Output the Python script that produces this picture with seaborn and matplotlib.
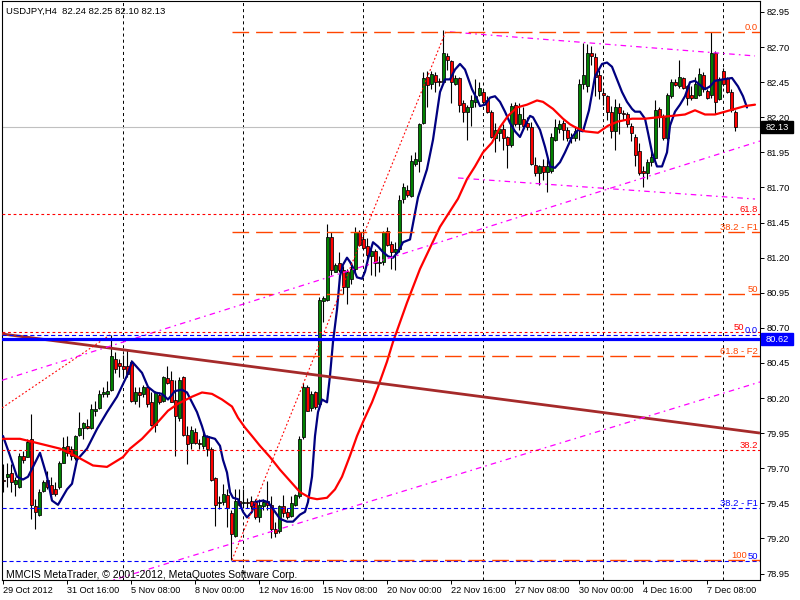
import matplotlib
matplotlib.use("Agg")
import matplotlib.pyplot as plt
import matplotlib.transforms as mtransforms
from matplotlib.patches import Rectangle
import numpy as np
import pandas as pd
import seaborn as sns

sns.set_style("white")
plt.rcParams['font.family'] = ['Liberation Sans', 'DejaVu Sans']
plt.rcParams['lines.scale_dashes'] = False

# ---------------- data ----------------
opens = [79.62, 79.64, 79.67, 79.59, 79.57, 79.79, 79.78, 79.91, 79.43, 79.37,
         79.54, 79.62, 79.58, 79.55, 79.57, 79.74, 79.86, 79.84, 79.77, 79.94,
         79.99, 80.00, 79.99, 80.11, 80.13, 80.23, 80.23, 80.26, 80.48, 80.45,
         80.43, 80.43, 80.46, 80.18, 80.24, 80.23, 80.28, 80.17, 80.01, 80.22,
         80.18, 80.34, 80.33, 80.19, 80.06, 80.35, 79.94, 79.88, 79.96, 79.88,
         79.86, 79.93, 79.84, 79.63, 79.45, 79.46, 79.51, 79.38, 79.22, 79.47,
         79.45, 79.46, 79.47, 79.46, 79.35, 79.43, 79.47, 79.44, 79.27, 79.25,
         79.43, 79.39, 79.36, 79.44, 79.50, 79.92, 80.28, 80.13, 80.24, 80.16,
         80.89, 80.90, 81.35, 81.10, 81.16, 81.11, 80.99, 81.05, 81.12, 81.38,
         81.33, 81.28, 81.21, 81.25, 81.16, 81.17, 81.39, 81.30, 81.24, 81.26,
         81.62, 81.68, 81.64, 81.87, 81.89, 82.16, 82.49, 82.44, 82.50, 82.46,
         82.45, 82.64, 82.60, 82.44, 82.48, 82.30, 82.24, 82.27, 82.31, 82.36,
         82.38, 82.32, 82.24, 82.05, 82.09, 82.12, 82.06, 82.00, 82.29, 82.15,
         82.19, 82.16, 82.13, 81.86, 81.80, 81.85, 81.81, 81.82, 82.04, 82.12,
         82.16, 82.11, 82.05, 82.05, 82.11, 82.44, 82.42, 82.66, 82.63, 82.50,
         82.37, 82.35, 82.24, 82.10, 82.27, 82.23, 82.22, 82.14, 82.06, 81.96,
         81.82, 81.80, 81.88, 81.91, 82.26, 82.20, 82.05, 82.35, 82.45, 82.42,
         82.48, 82.42, 82.36, 82.34, 82.36, 82.50, 82.39, 82.36, 82.66, 82.33,
         82.53, 82.48, 82.38, 82.24]
highs = [79.73, 79.74, 79.73, 79.64, 79.81, 79.82, 79.91, 80.09, 79.48, 79.55,
         79.62, 79.68, 79.64, 79.60, 79.75, 79.92, 79.93, 79.86, 79.94, 80.10,
         80.03, 80.05, 80.16, 80.18, 80.26, 80.28, 80.32, 80.65, 80.53, 80.48,
         80.51, 80.55, 80.47, 80.28, 80.28, 80.29, 80.29, 80.24, 80.25, 80.24,
         80.36, 80.43, 80.39, 80.33, 80.35, 80.36, 80.00, 80.00, 79.99, 79.91,
         79.96, 79.94, 79.85, 79.64, 79.50, 79.59, 79.55, 79.40, 79.55, 79.55,
         79.55, 79.49, 79.50, 79.48, 79.48, 79.48, 79.61, 79.50, 79.32, 79.44,
         79.51, 79.42, 79.50, 79.52, 79.93, 80.31, 80.29, 80.25, 80.25, 80.92,
         80.93, 81.44, 81.38, 81.16, 81.24, 81.14, 81.12, 81.17, 81.42, 81.40,
         81.40, 81.34, 81.26, 81.26, 81.21, 81.39, 81.42, 81.32, 81.31, 81.65,
         81.73, 81.72, 81.93, 81.95, 82.16, 82.52, 82.53, 82.53, 82.52, 82.48,
         82.82, 82.66, 82.61, 82.50, 82.49, 82.32, 82.29, 82.36, 82.47, 82.45,
         82.40, 82.35, 82.25, 82.16, 82.13, 82.15, 82.07, 82.30, 82.31, 82.30,
         82.27, 82.20, 82.17, 81.92, 81.86, 81.90, 81.90, 82.09, 82.19, 82.18,
         82.18, 82.13, 82.09, 82.13, 82.47, 82.73, 82.72, 82.71, 82.66, 82.54,
         82.41, 82.36, 82.28, 82.33, 82.30, 82.25, 82.24, 82.16, 82.08, 82.02,
         81.85, 81.90, 81.95, 82.32, 82.27, 82.22, 82.37, 82.47, 82.47, 82.61,
         82.49, 82.43, 82.42, 82.49, 82.55, 82.52, 82.40, 82.81, 82.67, 82.49,
         82.55, 82.49, 82.40, 82.25]
lows = [79.53, 79.57, 79.53, 79.50, 79.56, 79.74, 79.78, 79.34, 79.27, 79.36,
        79.53, 79.55, 79.48, 79.50, 79.55, 79.74, 79.79, 79.76, 79.76, 79.93,
        79.91, 79.98, 79.98, 80.07, 80.12, 80.21, 80.21, 80.25, 80.38, 80.35,
        80.36, 80.35, 80.17, 80.16, 80.14, 80.21, 80.14, 80.00, 79.96, 80.16,
        80.17, 80.30, 80.17, 79.79, 80.04, 79.93, 79.73, 79.84, 79.87, 79.84,
        79.84, 79.79, 79.61, 79.29, 79.41, 79.44, 79.28, 79.05, 79.21, 79.43,
        79.42, 79.42, 79.41, 79.34, 79.32, 79.40, 79.40, 79.20, 79.21, 79.24,
        79.35, 79.34, 79.35, 79.43, 79.49, 79.91, 80.11, 80.11, 80.12, 80.14,
        80.74, 80.89, 81.08, 81.10, 81.10, 80.94, 80.87, 81.01, 81.10, 81.28,
        81.26, 81.15, 81.08, 81.07, 81.10, 81.15, 81.28, 81.12, 81.11, 81.24,
        81.59, 81.63, 81.63, 81.85, 81.81, 82.15, 82.27, 82.40, 82.38, 82.42,
        82.44, 82.54, 82.30, 82.43, 82.24, 82.17, 82.04, 82.14, 82.27, 82.35,
        82.30, 82.23, 82.05, 81.95, 82.03, 81.97, 81.84, 81.99, 82.14, 82.11,
        82.13, 82.11, 81.86, 81.78, 81.72, 81.75, 81.67, 81.80, 82.03, 82.09,
        82.04, 82.03, 82.02, 82.03, 82.04, 82.40, 82.38, 82.57, 82.35, 82.33,
        82.29, 82.18, 82.05, 81.97, 82.08, 82.18, 82.13, 82.03, 81.85, 81.79,
        81.70, 81.76, 81.85, 81.90, 82.13, 82.04, 82.04, 82.34, 82.42, 82.41,
        82.40, 82.29, 82.32, 82.34, 82.35, 82.38, 82.33, 82.34, 82.22, 82.32,
        82.42, 82.37, 82.24, 82.10]
closes = [79.61, 79.66, 79.60, 79.62, 79.79, 79.76, 79.89, 79.44, 79.39, 79.53,
          79.60, 79.57, 79.52, 79.52, 79.74, 79.85, 79.81, 79.79, 79.93, 79.99,
          80.02, 79.99, 80.12, 80.12, 80.23, 80.24, 80.25, 80.50, 80.41, 80.43,
          80.41, 80.37, 80.18, 80.24, 80.22, 80.28, 80.16, 80.01, 80.24, 80.17,
          80.35, 80.31, 80.17, 80.07, 80.33, 79.94, 79.87, 79.97, 79.88, 79.87,
          79.93, 79.84, 79.62, 79.44, 79.46, 79.52, 79.42, 79.23, 79.47, 79.44,
          79.46, 79.45, 79.43, 79.35, 79.44, 79.46, 79.44, 79.27, 79.24, 79.43,
          79.38, 79.35, 79.45, 79.51, 79.91, 80.28, 80.11, 80.23, 80.14, 80.90,
          80.91, 81.35, 81.11, 81.15, 81.11, 80.99, 81.10, 81.12, 81.38, 81.29,
          81.27, 81.22, 81.25, 81.16, 81.17, 81.38, 81.29, 81.24, 81.26, 81.61,
          81.70, 81.65, 81.89, 81.90, 82.15, 82.48, 82.43, 82.51, 82.45, 82.45,
          82.66, 82.61, 82.45, 82.48, 82.29, 82.24, 82.27, 82.32, 82.35, 82.41,
          82.31, 82.24, 82.06, 82.11, 82.12, 82.05, 82.00, 82.28, 82.15, 82.22,
          82.14, 82.13, 81.87, 81.80, 81.85, 81.81, 81.85, 82.06, 82.13, 82.15,
          82.11, 82.05, 82.06, 82.10, 82.44, 82.50, 82.66, 82.64, 82.49, 82.39,
          82.36, 82.24, 82.10, 82.27, 82.23, 82.22, 82.15, 82.09, 81.93, 81.80,
          81.80, 81.88, 81.92, 82.25, 82.20, 82.05, 82.36, 82.45, 82.43, 82.49,
          82.41, 82.34, 82.34, 82.44, 82.51, 82.40, 82.34, 82.66, 82.31, 82.47,
          82.44, 82.38, 82.25, 82.13]

# fast MA (navy), sampled along the curve: bar position, value
blue_ma_bar = [0, 1.75, 3.5, 5, 6.25, 7.5, 9.25, 11, 12.25, 13.75, 16, 17.25, 18.5, 21, 23.5,
               26, 28.5, 31, 32.25, 34.75, 36.25, 38, 39.75, 41.25, 43, 44.75, 46, 47.25,
               48.5, 49.75, 50.5, 51.75, 53, 54.25, 55, 56, 56.75, 57.5, 58.75, 60, 61,
               62.25, 63, 65, 66.25, 67.5, 69.25, 71, 72.5, 74.25, 75.5, 76.25, 77.25, 78,
               78.75, 79.75, 81, 81.75, 82.5, 83.5, 84.25, 85, 86, 86.75, 87.5, 88.5, 89.75,
               90.5, 91.25, 92.5, 93.75, 95, 96.25, 97.5, 98.75, 100, 101.75, 103.75, 106,
               107.5, 109.25, 110.5, 111.75, 113, 114.25, 115.5, 116.25, 117.25, 118.5,
               119.25, 120.5, 121.75, 123, 124.25, 125.5, 126.75, 128, 129.25, 130.5,
               131.75, 132.5, 134.25, 135.5, 136.75, 138, 139.25, 140.5, 142.25, 143.75,
               145, 146.5, 148, 149.75, 151, 152.25, 153.5, 154.75, 156, 157.25, 158,
               159.25, 160.5, 161.25, 162.25, 163.5, 164.75, 166, 166.75, 168, 169.25,
               170.5, 171.75, 173, 174.25, 175.5, 176.75, 178, 180, 182.25, 183.75, 185, 186]
blue_ma_val = [79.93, 79.79, 79.64, 79.62, 79.64, 79.71, 79.81, 79.64, 79.47, 79.44, 79.55, 79.59,
               79.76, 79.84, 79.98, 80.10, 80.21, 80.36, 80.46, 80.38, 80.28, 80.24, 80.23,
               80.19, 80.25, 80.26, 80.24, 80.17, 80.10, 80.00, 79.93, 79.92, 79.91, 79.86,
               79.76, 79.67, 79.53, 79.49, 79.48, 79.39, 79.35, 79.39, 79.46, 79.47, 79.46,
               79.41, 79.34, 79.32, 79.32, 79.37, 79.39, 79.46, 79.64, 79.93, 80.10, 80.19,
               80.17, 80.36, 80.60, 80.83, 81.07, 81.15, 81.20, 81.17, 81.13, 81.06, 81.05,
               81.10, 81.19, 81.31, 81.28, 81.24, 81.21, 81.20, 81.24, 81.31, 81.33, 81.63,
               81.83, 82.04, 82.38, 82.47, 82.47, 82.54, 82.58, 82.54, 82.48, 82.40, 82.33,
               82.28, 82.29, 82.34, 82.35, 82.31, 82.24, 82.16, 82.10, 82.06, 82.14, 82.21,
               82.20, 82.11, 81.99, 81.85, 81.84, 81.88, 81.95, 82.06, 82.11, 82.10, 82.25,
               82.49, 82.58, 82.59, 82.56, 82.47, 82.38, 82.31, 82.26, 82.24, 82.24, 82.19,
               82.09, 81.95, 81.85, 81.85, 81.95, 82.14, 82.24, 82.29, 82.35, 82.45, 82.46,
               82.43, 82.40, 82.42, 82.46, 82.47, 82.48, 82.42, 82.35, 82.27]

# slow MA (red)
red_ma_bar = [0, 4.25, 10, 14.25, 18, 22.5, 26, 30, 31.75, 34.75, 38.75, 41.25, 43.75, 47.25,
              49.75, 52.25, 54.75, 57.25, 58.75, 60.5, 62.25, 64.25, 66.75, 69.25, 71.75,
              74.25, 76.75, 78.5, 81, 83, 84.75, 86.75, 88.5, 90, 92.25, 93.75, 96, 97.5,
              99.25, 101, 104.25, 109.25, 113.75, 116, 118, 120, 122.25, 124.25, 126.25,
              128.5, 131, 133.5, 135, 137.5, 140, 141.75, 143, 145.5, 148.75, 151.25,
              153.75, 157.25, 160.5, 163.75, 167.25, 170.5, 173, 175.5, 178, 180.5, 183,
              185.5, 188]
red_ma_val = [79.91, 79.91, 79.87, 79.84, 79.79, 79.72, 79.71, 79.78, 79.84, 79.91, 80.03, 80.11,
              80.16, 80.21, 80.24, 80.23, 80.19, 80.14, 80.06, 79.99, 79.93, 79.86, 79.78,
              79.69, 79.61, 79.53, 79.49, 79.48, 79.49, 79.55, 79.64, 79.79, 79.93, 80.03,
              80.17, 80.28, 80.46, 80.60, 80.74, 80.88, 81.12, 81.42, 81.62, 81.76, 81.85,
              81.95, 82.02, 82.13, 82.21, 82.27, 82.29, 82.32, 82.31, 82.26, 82.19, 82.15,
              82.13, 82.10, 82.09, 82.14, 82.17, 82.19, 82.19, 82.20, 82.21, 82.22, 82.25,
              82.22, 82.22, 82.24, 82.26, 82.28, 82.29]

time_bars = [0, 16, 32, 48, 64, 80, 96, 112, 128, 144, 160, 176]
time_labels = ["29 Oct 2012", "31 Oct 16:00", "5 Nov 08:00", "8 Nov 00:00", "12 Nov 16:00",
               "15 Nov 08:00", "20 Nov 00:00", "22 Nov 16:00", "27 Nov 08:00", "30 Nov 00:00",
               "4 Dec 16:00", "7 Dec 08:00"]
week_grid_bars = [30, 60, 90, 120, 150, 180]
price_ticks = [78.95, 79.20, 79.45, 79.70, 79.95, 80.20, 80.45, 80.70, 80.95,
               81.20, 81.45, 81.70, 81.95, 82.20, 82.45, 82.70, 82.95]

bid_price = 82.13
hline_price = 80.62

# Fibonacci objects: level prices and labels
orange_fib_start = 57.25
orange_fib_prices = [82.81, 81.38, 80.94, 80.50, 79.05]
orange_fib_labels = ["0.0", "38.2 - F1", "50", "61.8 - F2", "100"]
red_fib_prices = [81.51, 80.67, 79.83]
red_fib_labels = ["61.8", "50", "38.2"]
red_fib_zero_price = 78.88
blue_fib_prices = [80.65, 79.42, 79.04]
blue_fib_labels = ["0.0", "38.2 - F1", "50"]

# trend lines: (bar0, price0, bar1, price1)
brown_line = (-0.25, 80.657, 189.25, 79.951)
red_dotted_lines = [(57.25, 79.047, 110.75, 82.815), (-0.25, 80.13, 26.75, 80.65)]
magenta_lines = [(111.75, 82.808, 188.0, 82.637),
                 (113.75, 81.768, 188.0, 81.618),
                 (-0.25, 80.327, 189.25, 82.031),
                 (-0.25, 78.662, 189.25, 80.315)]

header = "USDJPY,H4  82.24 82.25 82.10 82.13"
copyright_text = "MMCIS MetaTrader, \u00a9 2001-2012, MetaQuotes Software Corp."

# ---------------- drawing ----------------
W, H = 800, 600
fig = plt.figure(figsize=(8, 6), dpi=100)
fig.patch.set_facecolor('white')
ax_l, ax_r, ax_t, ax_b = 2, 760, 1, 580
ax = fig.add_axes([ax_l / W, 1 - ax_b / H, (ax_r - ax_l) / W, (ax_b - ax_t) / H])
ax.set_facecolor('white')

px_per_price = 140.4
ymax = 82.95 + (12 - ax_t) / px_per_price
ymin = 82.95 - (ax_b - 12) / px_per_price
ax.set_xlim(-0.25, 189.25)
ax.set_ylim(ymin, ymax)

bars = np.arange(len(closes))
df = pd.DataFrame({'bar': bars, 'open': opens, 'high': highs, 'low': lows, 'close': closes})

# grid
for gb in week_grid_bars:
    ax.axvline(gb, color='black', lw=0.7, linestyle=(0, (2.2, 2.2)), zorder=0.5)

# bid line
ax.axhline(bid_price, color='#C0C0C0', lw=0.8, zorder=0.8)

# candles
ax.vlines(df['bar'], df['low'], df['high'], color='black', lw=0.8, zorder=2)
bull = df['close'] >= df['open']
body_bottom = np.minimum(df['open'], df['close'])
body_h = np.maximum(np.abs(df['close'] - df['open']), 0.008)
ax.bar(df['bar'], body_h, bottom=body_bottom, width=0.75,
       color=np.where(bull, '#008000', '#FF0000'), edgecolor='black', linewidth=0.55, zorder=2.5)

# moving averages
sns.lineplot(x=blue_ma_bar, y=blue_ma_val, ax=ax, color='#000080', linewidth=1.6,
             sort=False, estimator=None, zorder=3)
sns.lineplot(x=red_ma_bar, y=red_ma_val, ax=ax, color='#FF0000', linewidth=1.6,
             sort=False, estimator=None, zorder=3.1)

# objects
ax.plot([brown_line[0], brown_line[2]], [brown_line[1], brown_line[3]], color='#A52A2A',
        lw=2.0, zorder=4, solid_capstyle='butt')
for (b0, p0, b1, p1) in red_dotted_lines:
    ax.plot([b0, b1], [p0, p1], color='#FF0000', lw=0.8, linestyle=(0, (1.3, 1.6)), zorder=4)
for (b0, p0, b1, p1) in magenta_lines:
    ax.plot([b0, b1], [p0, p1], color='#FF00FF', lw=0.9, linestyle=(0, (4, 3, 1.2, 3)), zorder=4)

for p in red_fib_prices:
    ax.axhline(p, color='#FF0000', lw=0.8, linestyle=(0, (2, 2)), zorder=4)
for p in blue_fib_prices:
    ax.axhline(p, color='#0000FF', lw=0.8, linestyle=(0, (3, 2)), zorder=4)
for p in orange_fib_prices:
    ax.plot([orange_fib_start, 189.25], [p, p], color='#FF4500', lw=1.0,
            linestyle=(0, (12, 5)), zorder=4)

ax.axhline(hline_price, color='#0000FF', lw=2.3, zorder=4.5)

# fib labels
blend = mtransforms.blended_transform_factory(ax.transAxes, ax.transData)
lift = blend + mtransforms.ScaledTranslation(0, 2 / 100, fig.dpi_scale_trans)


def xfrac(px):
    return (px - ax_l) / (ax_r - ax_l)


def fib_label(px_right, price, s, color):
    ax.text(xfrac(px_right), price, s, transform=lift, ha='right', va='baseline',
            color=color, fontsize=6.8, zorder=6, clip_on=True)


for p, s in zip(orange_fib_prices, orange_fib_labels):
    fib_label(747 if s == "100" else 758, p, s, '#FF4500')
for p, s in zip(red_fib_prices, red_fib_labels):
    fib_label(744 if s == "50" else 758, p, s, '#FF0000')
for p, s in zip(blue_fib_prices, blue_fib_labels):
    fib_label(758, p, s, '#0000FF')
ax.text(xfrac(740), red_fib_zero_price, "0.0", transform=blend, ha='right', va='center',
        color='#FF0000', fontsize=6.8, zorder=6, clip_on=True)

# axes styling
for sp in ax.spines.values():
    sp.set_color('black')
    sp.set_linewidth(0.8)
ax.yaxis.tick_right()
ax.set_yticks(price_ticks)
ax.set_yticklabels([f"{v:.2f}" for v in price_ticks])
ax.set_xticks(time_bars)
ax.set_xticklabels(time_labels)
for lbl in ax.get_xticklabels():
    lbl.set_horizontalalignment('left')
ax.tick_params(axis='y', which='both', right=True, left=False, length=3, width=0.7,
               pad=1.5, labelsize=6.7, colors='black')
ax.tick_params(axis='x', which='both', bottom=True, length=3, width=0.7,
               pad=1.5, labelsize=6.6, colors='black')
ax.set_xlabel('')
ax.set_ylabel('')
ax.grid(False)

# price boxes on the axis (fixed pixel size like the terminal)
box_h = 12 / px_per_price
for price, fc in [(bid_price, 'black'), (hline_price, '#0000FF')]:
    ax.add_patch(Rectangle((xfrac(761), price - box_h / 2), xfrac(793) - xfrac(761), box_h,
                           transform=blend, facecolor=fc, edgecolor=fc, clip_on=False,
                           zorder=9))
    ax.text(xfrac(777), price, f"{price:.2f}", transform=blend, ha='center', va='center',
            color='white', fontsize=6.7, zorder=10, clip_on=False)

fig.text(6 / W, 1 - 11 / H, header, fontsize=6.8, va='center', ha='left', color='black')
fig.text(6 / W, 1 - 575 / H, copyright_text, fontsize=7.5, va='center', ha='left', color='black')

fig.savefig("out.png", dpi=100, facecolor='white')
